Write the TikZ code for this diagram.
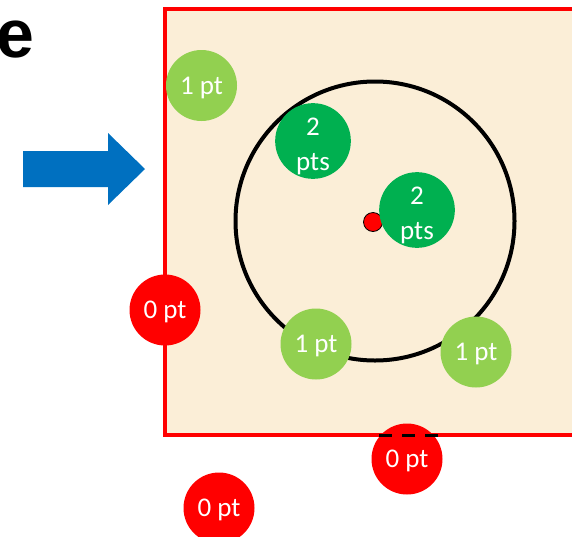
\documentclass[tikz,border=0pt]{standalone}
\usepackage{fontspec}
\setmainfont{Carlito}
\newfontfamily\arialfont{Liberation Sans}
\definecolor{bgbeige}{RGB}{251,238,215}
\definecolor{lgreen}{RGB}{146,208,80}
\definecolor{dgreen}{RGB}{0,176,80}
\definecolor{arrowblue}{RGB}{0,112,192}
\definecolor{pred}{RGB}{255,0,0}
\begin{document}
\begin{tikzpicture}[x=1pt,y=-1pt,
  score/.style={circle,minimum size=71pt,inner sep=0pt,text=white,
    font=\fontsize{27}{35}\selectfont,align=center},
  onept/.style={score,fill=lgreen,text depth=0pt},
  twopts/.style={score,fill=dgreen,text height=63pt,text depth=5pt},
  zeropt/.style={score,fill=pred,text depth=0pt}]
\useasboundingbox (0,0) rectangle (572,536);
\clip (0,0) rectangle (572,536);
% letter
\node[anchor=base west,inner sep=0pt,font=\arialfont\bfseries\fontsize{68}{70}\selectfont] (lettere) at (-4,57) {e};
% arrow
\fill[arrowblue] (23,151) -- (108,151) -- (108,133) -- (145,169) -- (108,205) -- (108,187) -- (23,187) -- cycle;
% field
\draw[pred,line width=4pt,fill=bgbeige] (580,9) -- (165,9) -- (165,435) -- (580,435);
% target circle
\node[circle,draw=black,line width=4pt,minimum size=279pt,inner sep=0pt] (ring) at (375,221) {};
\node[circle,draw=black,fill=pred,line width=0.8pt,minimum size=19pt,inner sep=0pt] (centre) at (373,222) {};
% scores
\node[onept] (a) at (201.5,85.5) {1 pt};
\node[twopts] (b) at (313,141) {2\\pts};
\node[twopts] (c) at (417,210) {2\\pts};
\node[zeropt] (d) at (165,310) {0 pt};
\node[onept] (e) at (316,344) {1 pt};
\node[onept] (f) at (476,352) {1 pt};
\node[zeropt] (g) at (407,459) {0 pt};
\node[zeropt] (h) at (219,508) {0 pt};
% dashed edge over bottom circle
\coordinate (dl) at (379,435);
\coordinate (dr) at (438,435);
\draw[black,line width=3pt,dash pattern=on 13pt off 10pt] (dl) -- (dr);
\end{tikzpicture}
\end{document}
